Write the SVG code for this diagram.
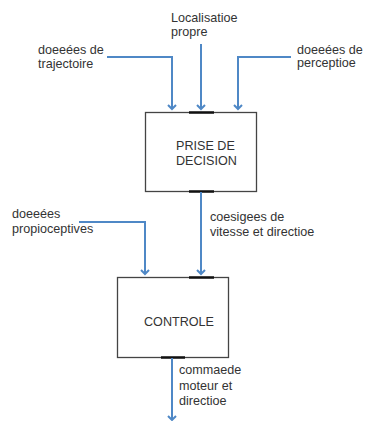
<svg xmlns="http://www.w3.org/2000/svg" width="365" height="421" viewBox="0 0 365 421">
<style>
text{font-family:"Liberation Sans",Arial,sans-serif;font-size:12.6px;fill:#333}
.box{fill:#fff;stroke:#444;stroke-width:1.3}
.bar{stroke:#111;stroke-width:2.5}
.c{fill:none;stroke:#4F88C6;stroke-width:2}
</style>
<defs>
<marker id="ah" markerWidth="10" markerHeight="10" refX="5" refY="5" orient="auto" markerUnits="userSpaceOnUse" viewBox="0 0 10 10">
<path d="M1,1 L5,5 L1,9" fill="none" stroke="#4F88C6" stroke-width="2"/>
</marker>
</defs>
<rect width="365" height="421" fill="#fff"/>
<g id="n1">
<rect class="box" x="145.5" y="112.5" width="111" height="79"/>
<line class="bar" x1="189" y1="112.5" x2="214" y2="112.5"/>
<line class="bar" x1="189" y1="191.5" x2="214" y2="191.5"/>
<text x="176" y="150">PRISE DE</text>
<text x="176" y="165">DECISION</text>
</g>
<g id="n2">
<rect class="box" x="117.5" y="277.5" width="111" height="80"/>
<line class="bar" x1="189" y1="277.5" x2="214" y2="277.5"/>
<line class="bar" x1="161" y1="357.5" x2="185" y2="357.5"/>
<text x="144" y="326">CONTROLE</text>
</g>
<g id="labels">
<text x="171" y="21.5">Localisatioe</text>
<text x="171" y="35.5">propre</text>
<text x="38" y="53.5">doeeées de</text>
<text x="38" y="67.5">trajectoire</text>
<text x="297" y="53.5">doeeées de</text>
<text x="297" y="67">perceptioe</text>
<text x="12" y="218">doeeées</text>
<text x="12" y="233">propioceptives</text>
<text x="210" y="221">coesigees de</text>
<text x="210" y="235.5">vitesse et directioe</text>
<text x="179" y="374">commaede</text>
<text x="179" y="389.5">moteur et</text>
<text x="179" y="405">directioe</text>
</g>
<g id="connectors">
<polyline class="c" points="107,57 172,57 172,109" marker-end="url(#ah)"/>
<line class="c" x1="201" y1="44" x2="201" y2="109" marker-end="url(#ah)"/>
<polyline class="c" points="291,57 238,57 238,109" marker-end="url(#ah)"/>
<line class="c" x1="201" y1="192" x2="201" y2="274" marker-end="url(#ah)"/>
<polyline class="c" points="79,222 145,222 145,274" marker-end="url(#ah)"/>
<line class="c" x1="172" y1="358" x2="172" y2="420" marker-end="url(#ah)"/>
</g>
</svg>
